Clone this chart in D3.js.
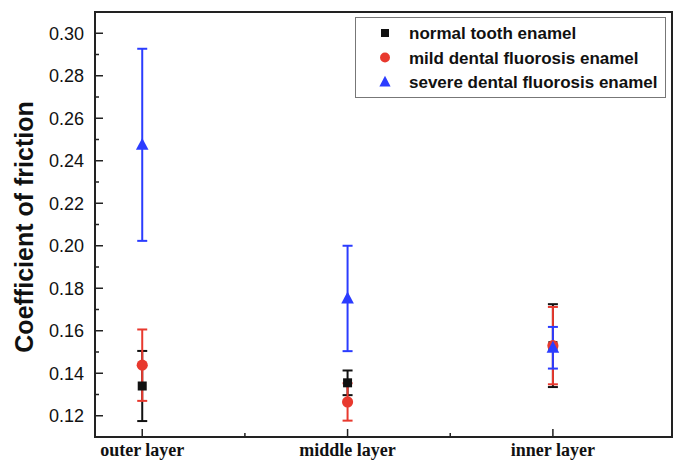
<!DOCTYPE html>
<html>
<head>
<meta charset="utf-8">
<script src="https://cdn.jsdelivr.net/npm/d3@7"></script>
<style>
  body { margin: 0; background: #fff; }
  svg { display: block; }
  .ylab { font-family: "Liberation Sans", Arial, sans-serif; font-size: 18px; fill: #111; }
  .xlab { font-family: "Liberation Serif", "Times New Roman", serif; font-size: 18px; font-weight: bold; fill: #111; }
  .title { font-family: "Liberation Sans", Arial, sans-serif; font-size: 25px; font-weight: bold; fill: #111; }
  .legend { font-family: "Liberation Sans", Arial, sans-serif; font-size: 17px; font-weight: bold; fill: #111; }
</style>
</head>
<body>
<div id="chart"></div>
<script>
// categories along x
const layers = ["outer layer", "middle layer", "inner layer"];

// series names and colours
const seriesNames = ["normal tooth enamel", "mild dental fluorosis enamel", "severe dental fluorosis enamel"];
const seriesColors = ["#111111", "#e8392e", "#2b3cff"];
const seriesShapes = ["square", "circle", "triangle"];

// mean values per layer
const normalMean = [0.134, 0.1355, 0.153];
const mildMean = [0.1438, 0.1265, 0.153];
const severeMean = [0.2475, 0.1752, 0.152];

// error (half width) per layer
const normalErr = [0.0165, 0.0058, 0.0195];
const mildErr = [0.0168, 0.0088, 0.0182];
const severeErr = [0.0452, 0.0248, 0.0098];

const yTicks = [0.12, 0.14, 0.16, 0.18, 0.20, 0.22, 0.24, 0.26, 0.28, 0.30];

const W = 674, H = 461;
const pLeft = 95, pRight = 672, pTop = 12, pBottom = 437;

const svg = d3.select("#chart").append("svg")
  .attr("width", W)
  .attr("height", H);

const xscale = d3.scaleLinear().domain([0.77, 3.58]).range([pLeft, pRight]);
const yscale = d3.scaleLinear().domain([0.11, 0.31]).range([pBottom, pTop]);

const series = [
  {mean: normalMean, err: normalErr},
  {mean: mildMean, err: mildErr},
  {mean: severeMean, err: severeErr}
];

// y axis ticks (inward) and labels
const yMinor = d3.range(0.11, 0.3101, 0.01).map(v => +v.toFixed(2));
svg.append("g").selectAll("line").data(yMinor).enter().append("line")
  .attr("x1", pLeft).attr("x2", d => pLeft + (yTicks.includes(d) ? 8 : 4))
  .attr("y1", d => yscale(d)).attr("y2", d => yscale(d))
  .attr("stroke", "#222").attr("stroke-width", 1.5);

svg.append("g").selectAll("text").data(yTicks).enter().append("text")
  .attr("class", "ylab")
  .attr("x", 84)
  .attr("y", d => yscale(d))
  .attr("dy", "0.36em")
  .attr("text-anchor", "end")
  .text(d => d3.format(".2f")(d));

// x axis ticks
const xMinor = [1, 1.5, 2, 2.5, 3];
svg.append("g").selectAll("line").data(xMinor).enter().append("line")
  .attr("x1", d => xscale(d)).attr("x2", d => xscale(d))
  .attr("y1", pBottom).attr("y2", d => pBottom - (Number.isInteger(d) ? 8 : 4))
  .attr("stroke", "#222").attr("stroke-width", 1.5);

svg.append("g").selectAll("text").data(layers).enter().append("text")
  .attr("class", "xlab")
  .attr("x", (d, i) => xscale(i + 1))
  .attr("y", 456)
  .attr("text-anchor", "middle")
  .text(d => d);

// y title
svg.append("text")
  .attr("class", "title")
  .attr("transform", "translate(33,227) rotate(-90)")
  .attr("text-anchor", "middle")
  .text("Coefficient of friction");

// marker drawing
function drawMarker(g, shape, x, y, color, size) {
  if (shape === "square") {
    g.append("rect").attr("x", x - size / 2).attr("y", y - size / 2)
      .attr("width", size).attr("height", size).attr("fill", color);
  } else if (shape === "circle") {
    g.append("circle").attr("cx", x).attr("cy", y).attr("r", size * 0.62).attr("fill", color);
  } else {
    const s = size * 1.4;
    g.append("path")
      .attr("d", `M${x},${y - s * 0.55} L${x + s / 2},${y + s * 0.4} L${x - s / 2},${y + s * 0.4} Z`)
      .attr("fill", color);
  }
}

// error bars and points
const plot = svg.append("g");
series.forEach((s, si) => {
  const col = seriesColors[si];
  s.mean.forEach((m, i) => {
    const x = xscale(i + 1);
    const y0 = yscale(m - s.err[i]), y1 = yscale(m + s.err[i]);
    plot.append("line").attr("x1", x).attr("x2", x).attr("y1", y0).attr("y2", y1)
      .attr("stroke", col).attr("stroke-width", 2);
    [y0, y1].forEach(yy => plot.append("line")
      .attr("x1", x - 5).attr("x2", x + 5).attr("y1", yy).attr("y2", yy)
      .attr("stroke", col).attr("stroke-width", 2));
  });
});
series.forEach((s, si) => {
  s.mean.forEach((m, i) => {
    drawMarker(plot, seriesShapes[si], xscale(i + 1), yscale(m), seriesColors[si], 9);
  });
});

// frame
svg.append("path")
  .attr("d", `M${pLeft},${pTop} H${pRight} V${pBottom} H${pLeft} Z`)
  .attr("fill", "none").attr("stroke", "#222").attr("stroke-width", 2);

// legend
const lg = svg.append("g");
lg.append("rect").attr("x", 355.5).attr("y", 17.5).attr("width", 310).attr("height", 80)
  .attr("fill", "#fff").attr("stroke", "#777").attr("stroke-width", 1);
seriesNames.forEach((name, i) => {
  const yy = 33 + i * 24.5;
  drawMarker(lg, seriesShapes[i], 385, yy, seriesColors[i], 8);
  lg.append("text").attr("class", "legend")
    .attr("x", 409).attr("y", yy).attr("dy", "0.36em")
    .text(name);
});
</script>
</body>
</html>
